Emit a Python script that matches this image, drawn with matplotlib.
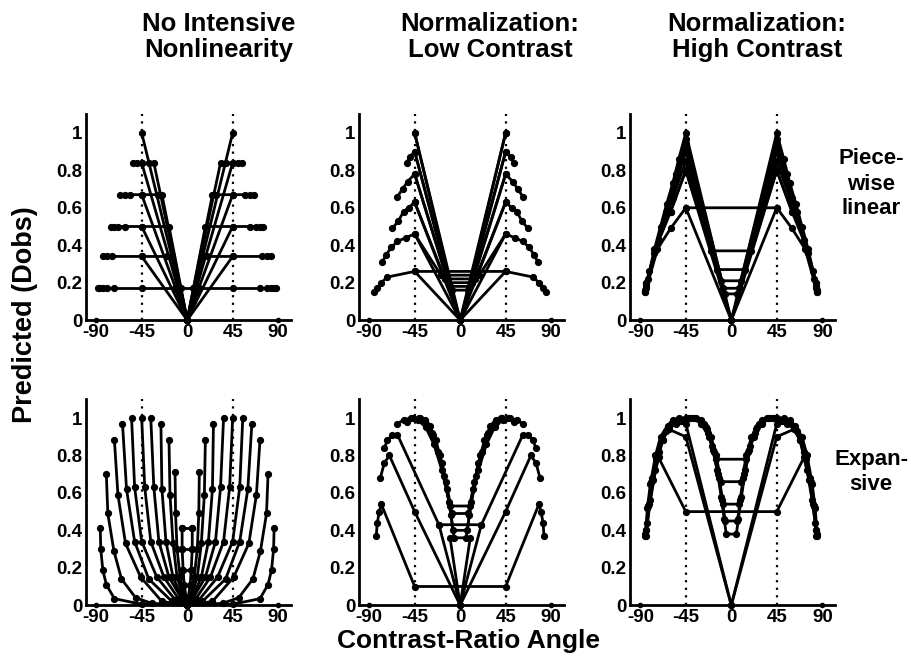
import matplotlib
matplotlib.use("Agg")
import matplotlib.pyplot as plt

plt.rcParams['font.family'] = ['Liberation Sans', 'DejaVu Sans']

x_ticks = [-90, -45, 0, 45, 90]
x_tick_labels = ['-90', '-45', '0', '45', '90']
y_ticks = [0, 0.2, 0.4, 0.6, 0.8, 1]
y_tick_labels = ['0', '0.2', '0.4', '0.6', '0.8', '1']

col_titles = ['No Intensive\nNonlinearity', 'Normalization:\nLow Contrast', 'Normalization:\nHigh Contrast']
row_labels = ['Piece-\nwise\nlinear', 'Expan-\nsive']

# stray points on the axis at +-90
edge_x = [-90, 90]
edge_y = [0, 0]

# every curve is given for angles >= 0 (centre outwards), the left half is its mirror
# top left: no intensive nonlinearity, piecewise linear
p1_x = [[0, 45], [0, 33, 38, 45, 50, 54], [0, 45], [0, 25, 29, 45, 57, 62, 66],
        [0, 45], [0, 18, 45, 62, 68, 72, 75], [0, 45], [0, 15, 20, 45, 74, 79, 83],
        [0, 45], [6, 45, 72, 79, 83, 86, 88], [0, 12]]
p1_y = [[0, 1.0], [0, .84, .84, .84, .84, .84], [0, .84], [0, .67, .67, .67, .67, .67, .67],
        [0, .67], [0, .5, .5, .5, .5, .5, .5], [0, .5], [0, .34, .34, .34, .34, .34, .34],
        [0, .34], [.17, .17, .17, .17, .17, .17, .17], [0, .17]]

# top middle: normalization, low contrast, piecewise linear
p2_x = [[0, 45], [8, 45], [0, 45], [10, 45, 50, 53], [0, 45], [12, 45, 52, 57, 62],
        [0, 45], [15, 45, 51, 56, 61, 67], [0, 45], [19, 45, 54, 62, 68, 73, 77],
        [0, 45], [45, 72, 78, 82, 85]]
p2_y = [[0, 1.0], [.16, 1.0], [0, .9], [.18, .9, .87, .84], [0, .78], [.2, .78, .74, .7, .66],
        [0, .63], [.22, .63, .6, .58, .53, .49], [0, .46], [.24, .46, .44, .42, .39, .35, .31],
        [0, .26], [.26, .23, .2, .17, .15]]

# top right: normalization, high contrast, piecewise linear
p3_x = [[0, 45, 52, 58, 64, 70, 76, 81, 85], [6, 45, 55, 65, 75, 82, 85], [8, 45, 60, 75, 85],
        [10, 45, 60, 76, 84], [14, 45, 58, 72, 84], [0, 45], [20, 45, 60, 75, 84],
        [0, 45, 60], [45, 60, 73, 84], [0, 45]]
p3_y = [[0, 1.0, .86, .73, .62, .5, .38, .26, .15], [.14, .97, .78, .58, .38, .22, .15],
        [.17, .94, .65, .37, .16], [.21, .9, .64, .36, .18], [.27, .85, .65, .43, .2],
        [0, .85], [.37, .8, .58, .38, .2], [0, .8, .58], [.6, .49, .38, .17], [0, .6]]

# bottom left: no intensive nonlinearity, expansive
p4_x = [[0, 1, 3, 4, 5, 5], [0, 3, 7, 10, 11.5, 12], [0, 4, 10, 14, 17, 18],
        [0, 5, 14, 21, 25, 26], [0, 6, 18, 28, 33, 36], [0, 8, 23, 36, 42, 45],
        [0, 12, 30, 45, 52, 55], [0, 15, 38, 52, 60, 64], [0, 25, 46, 61, 68.5, 72],
        [0, 35, 51, 65, 72.5, 78.5, 80], [0, 45, 72, 80, 83.5, 85.5, 86],
        [5], [5], [5], [5]]
p4_y = [[0, .04, .11, .19, .30, .41], [0, .04, .15, .3, .49, .71], [0, .05, .15, .33, .59, .88],
        [0, .04, .15, .34, .62, .97], [0, .04, .15, .34, .63, 1.0], [0, .03, .15, .34, .63, 1.0],
        [0, .03, .15, .34, .63, 1.0], [0, .02, .14, .34, .62, .97], [0, .02, .15, .33, .59, .88],
        [0, .01, .04, .14, .29, .49, .70], [0, .005, .035, .11, .19, .30, .41],
        [.41], [.30], [.19], [.11]]

# bottom middle: normalization, low contrast, expansive
p5_x = [[45, 78, 80, 82, 83], [0, 45, 70, 75, 79], [21, 62, 67, 72, 75], [0, 21],
        [10, 18, 26, 34, 42, 49, 56, 62], [8, 14, 20, 27, 34, 41, 47, 53],
        [7, 11, 16, 22, 28, 35, 40], [6, 9, 13, 18, 24, 30, 35], [0, 10]]
p5_y = [[.1, .54, .5, .44, .37], [0, .5, .8, .76, .68], [.43, .91, .91, .88, .84], [0, .43],
        [.53, .72, .86, .95, .99, 1.0, .99, .97], [.49, .66, .8, .91, .97, 1.0, 1.0, .98],
        [.40, .55, .69, .82, .92, .98, 1.0], [.36, .48, .62, .76, .88, .96, .99], [0, .36]]

# bottom right: normalization, high contrast, expansive
p6_x = [[45, 72, 77, 81, 83, 84], [0, 45, 62, 68, 75, 80, 84], [0, 45, 55, 65, 72, 78, 82, 85],
        [15, 22, 30, 38, 45, 52, 58, 63, 70, 75, 80, 83, 85],
        [10, 15, 20, 27, 35, 42, 48, 55, 62, 68, 74, 79, 82, 84],
        [8, 12, 17, 23, 30, 36, 41], [6, 9, 13, 18, 24, 30], [5, 7, 10, 14, 19, 25]]
p6_y = [[.5, .79, .67, .54, .44, .37], [0, .9, .94, .88, .72, .56, .4],
        [0, .97, .97, .93, .82, .68, .53, .38],
        [.78, .9, .97, 1.0, 1.0, 1.0, .99, .96, .9, .8, .65, .52, .37],
        [.66, .8, .9, .97, 1.0, 1.0, .99, .98, .95, .88, .78, .66, .53, .4],
        [.54, .68, .82, .92, .98, 1.0, 1.0], [.45, .56, .7, .83, .94, .99],
        [.38, .46, .58, .72, .85, .95]]

panels = [(p1_x, p1_y), (p2_x, p2_y), (p3_x, p3_y),
          (p4_x, p4_y), (p5_x, p5_y), (p6_x, p6_y)]


def mirror(xs, ys):
    # left half is the mirror image of the right half
    if xs[0] == 0:
        return [-v for v in xs[:0:-1]] + xs, ys[:0:-1] + ys
    return [-v for v in xs[::-1]] + xs, ys[::-1] + ys


fig = plt.figure(figsize=(9.16, 6.6), dpi=100)
lefts = [0.094, 0.392, 0.688]
bottoms = [0.515, 0.083]

for i, (cx, cy) in enumerate(panels):
    ax = fig.add_axes([lefts[i % 3], bottoms[i // 3], 0.224, 0.312])
    for v in (-45, 45):
        ax.plot([v, v], [0, 1.1], color='k', ls=(0, (1, 2.4)), lw=1.6, zorder=1)
    for xs, ys in zip(cx, cy):
        fx, fy = mirror(xs, ys)
        ax.plot(fx, fy, '-o', color='k', lw=2.0, ms=4.2, zorder=3, clip_on=False)
    ax.plot(edge_x, edge_y, 'o', color='k', ms=3, clip_on=False)

    ax.set_xlim(-100, 103)
    ax.set_ylim(0, 1.1)
    ax.set_xticks(x_ticks)
    ax.set_xticklabels(x_tick_labels, fontweight='bold', fontsize=13.5)
    ax.set_yticks(y_ticks)
    ax.set_yticklabels(y_tick_labels, fontweight='bold', fontsize=13.5)
    ax.tick_params(length=0, pad=2.5)
    for s in ('top', 'right'):
        ax.spines[s].set_visible(False)
    for s in ('left', 'bottom'):
        ax.spines[s].set_linewidth(2.0)

title_x = [219, 490, 757]
for t, x in zip(col_titles, title_x):
    fig.text(x / 916, 1 - 37 / 660, t, ha='center', va='center', fontsize=18.5,
             fontweight='bold', linespacing=1.1)

fig.text(871 / 916, 1 - 184 / 660, row_labels[0], ha='center', va='center',
         fontsize=16, fontweight='bold', linespacing=1.25)
fig.text(871 / 916, 1 - 472 / 660, row_labels[1], ha='center', va='center',
         fontsize=16, fontweight='bold', linespacing=1.25)

fig.text(25 / 916, 1 - 315 / 660, 'Predicted (Dobs)', rotation=90, ha='center',
         va='center', fontsize=19.5, fontweight='bold')
fig.text(469 / 916, 1 - 641 / 660, 'Contrast-Ratio Angle', ha='center', va='center',
         fontsize=19, fontweight='bold')

fig.savefig('out.png', dpi=100)
